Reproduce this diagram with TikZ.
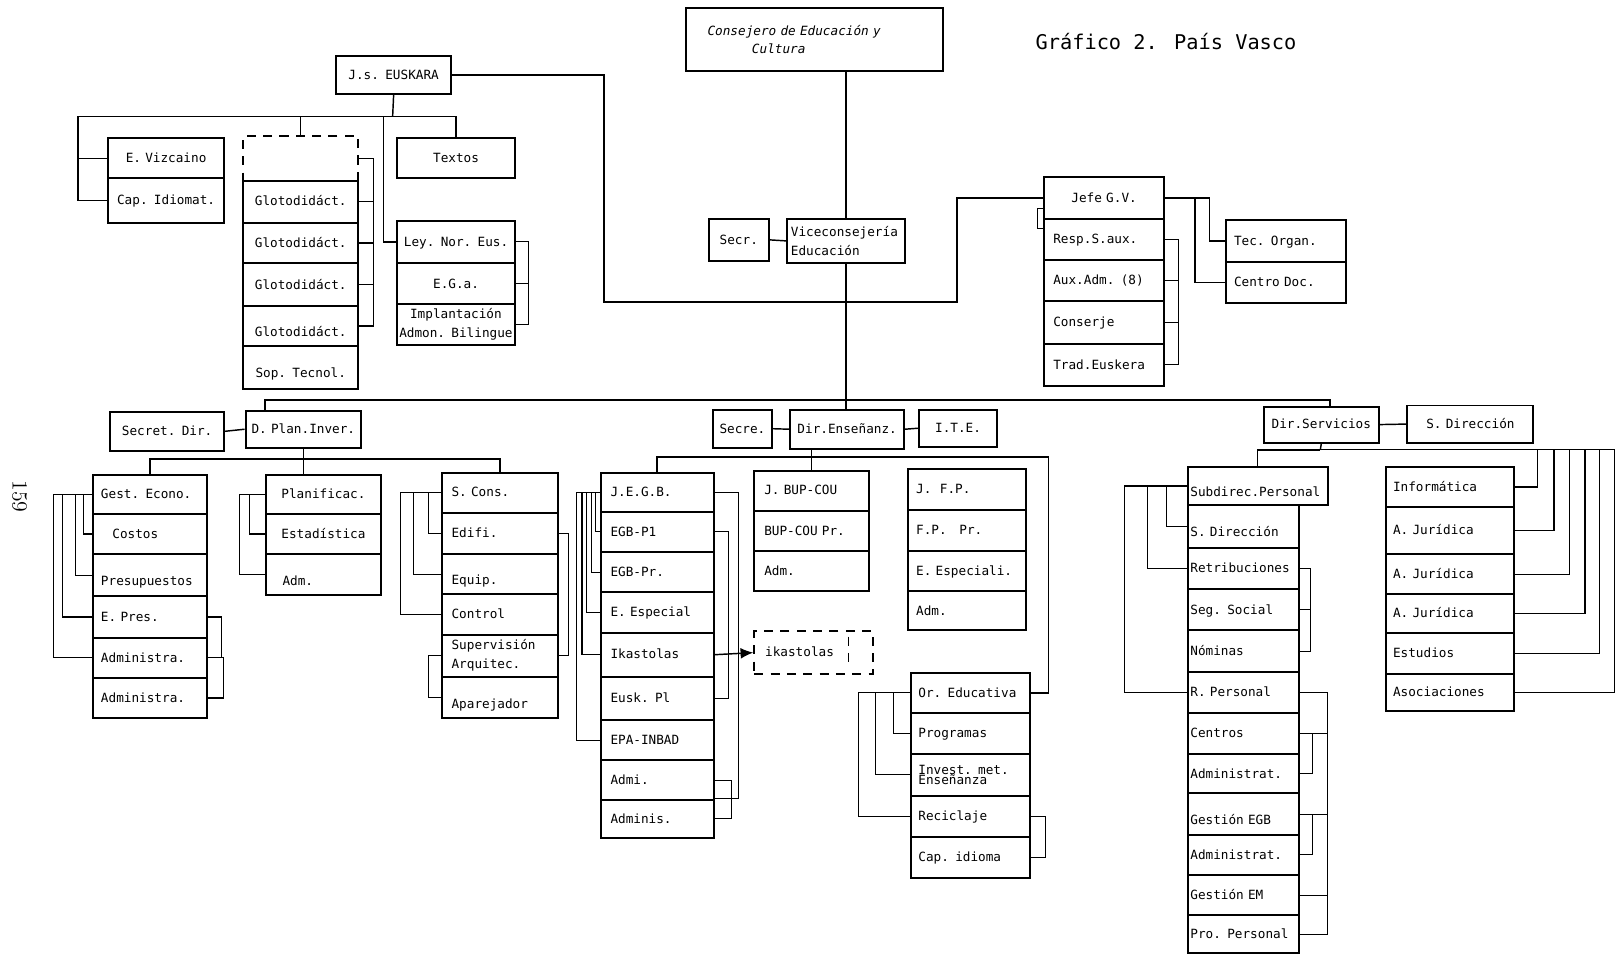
\documentclass[tikz,border=0pt]{standalone}
\usepackage{fontspec}
\newfontfamily\boxfont[WordSpace={1,0,0}]{DejaVu Sans Mono}
\usetikzlibrary{positioning, arrows.meta}

\begin{document}
\begin{tikzpicture}[x=0.02cm, y=-0.02cm]
\tikzset{
  base/.style={draw, line width=1.1pt, anchor=north west, inner xsep=2pt, inner ysep=0pt,
    font=\boxfont\fontsize{7}{10.5}\selectfont, align=left},
  cell/.style={base, text height=1.5ex, text depth=.4ex},
  cc/.style={align=center},
  low/.style={text height=3.1ex},
  dbox/.style={dash pattern=on 5pt off 4pt},
  main/.style={line width=1.1pt},
  ln/.style={line width=.8pt},
  brk/.style={line width=.6pt},
  % columnas
  gcol/.style={cell, inner xsep=4.5pt, text width=1.90cm},
  pcol/.style={cell, cc, text width=2.08cm},
  scol/.style={cell, inner xsep=5.5pt, text width=1.87cm},
  ecol/.style={cell, inner xsep=5.5pt, text width=1.81cm},
  bcol/.style={cell, inner xsep=5.5pt, text width=1.83cm},
  fcol/.style={cell, inner xsep=4.5pt, text width=1.98cm},
  ocol/.style={cell, inner xsep=4pt, text width=2.02cm},
  dcol/.style={cell, inner xsep=1.5pt, text width=2.05cm},
  icol/.style={cell, inner xsep=4pt, text width=2.20cm},
  jcol/.style={cell, inner xsep=5pt, text width=1.97cm},
}

\fill[white] (0,0) rectangle (1568,924);

% titulo y pagina
\node[font=\boxfont\fontsize{11.2}{13}\selectfont] (ttl) at (1130,40) {Gráfico 2. País Vasco};
\node[rotate=-90, font=\fontsize{12}{14}\selectfont] (pag) at (19,481) {159};

% arriba
\node[base, text width=4.84cm, minimum height=1.22cm, font=\boxfont\itshape\fontsize{7}{10.2}\selectfont] (cons) at (664,7)
  {\hspace*{1.4em}Consejero de Educación y\\\hspace*{4.9em}Cultura};
\node[cell, cc, text width=1.02cm, minimum height=0.82cm] (secr) at (686,211) {Secr.};
\node[base, text width=2.14cm, minimum height=0.86cm] (vice) at (762,211) {Viceconsejería\\Educación};

% J.s. Euskara
\node[cell, cc, text width=2.08cm, minimum height=0.74cm] (jse) at (325,53) {J.s. EUSKARA};
\node[cell, cc, text width=2.10cm, minimum height=0.78cm] (evz) at (104,133) {E. Vizcaino};
\node[cell, cc, text width=2.10cm, minimum height=0.86cm] (cap) at (104,172) {Cap. Idiomat.};
\node[cell, dbox, text width=2.08cm, minimum height=0.86cm] (glot0) at (235,131) {};
\node[pcol, minimum height=0.82cm] (glot1) at (235,174) {Glotodidáct.};
\node[pcol, minimum height=0.78cm] (glot2) at (235,215) {Glotodidáct.};
\node[pcol, minimum height=0.84cm] (glot3) at (235,254) {Glotodidáct.};
\node[pcol, low, minimum height=0.76cm] (glot4) at (235,296) {Glotodidáct.};
\node[pcol, low, minimum height=0.84cm] (sop) at (235,334) {Sop. Tecnol.};
\node[cell, cc, text width=2.14cm, minimum height=0.78cm] (textos) at (384,133) {Textos};
\node[cell, cc, text width=2.14cm, minimum height=0.82cm] (ley) at (384,213) {Ley. Nor. Eus.};
\node[cell, cc, text width=2.14cm, minimum height=0.80cm] (ega) at (384,254) {E.G.a.};
\node[base, cc, inner xsep=0.5pt, text width=2.24cm, minimum height=0.78cm] (imp) at (384,294) {Implantación\\Admon. Bilingue};

% Jefe G.V.
\node[jcol, cc, minimum height=0.80cm] (jefe) at (1011,171) {Jefe G.V.};
\node[jcol, minimum height=0.80cm] (resp) at (1011,211) {Resp.S.aux.};
\node[jcol, minimum height=0.80cm] (aux) at (1011,251) {Aux.Adm. (8)};
\node[jcol, minimum height=0.82cm] (conserje) at (1011,291) {Conserje};
\node[jcol, minimum height=0.82cm] (trad) at (1011,332) {Trad.Euskera};
\node[cell, inner xsep=4.5pt, text width=2.02cm, minimum height=0.82cm] (tec) at (1187,212) {Tec. Organ.};
\node[cell, inner xsep=4.5pt, text width=2.02cm, minimum height=0.80cm] (cdoc) at (1187,253) {Centro Doc.};

% direcciones
\node[cell, cc, text width=2.06cm, minimum height=0.76cm] (sdir) at (106,398) {Secret. Dir.};
\node[cell, cc, text width=2.10cm, minimum height=0.72cm] (dplan) at (237,397) {D. Plan.Inver.};
\node[cell, cc, text width=1.00cm, minimum height=0.74cm] (secre) at (690,396) {Secre.};
\node[cell, cc, text width=2.06cm, minimum height=0.76cm] (denz) at (765,396) {Dir.Enseñanz.};
\node[cell, cc, text width=1.36cm, minimum height=0.72cm] (ite) at (890,396) {I.T.E.};
\node[cell, cc, text width=2.08cm, minimum height=0.70cm] (dserv) at (1224,393) {Dir.Servicios};
\node[cell, cc, text width=2.30cm, minimum height=0.72cm] (sdir2) at (1363,392) {S. Dirección};

% D. Plan.Inver.
\node[gcol, minimum height=0.76cm] (gest) at (89,459) {Gest. Econo.};
\node[gcol, minimum height=0.78cm] (costos) at (89,497) {\hspace*{0.9em}Costos};
\node[gcol, low, minimum height=0.82cm] (presup) at (89,536) {Presupuestos};
\node[gcol, minimum height=0.80cm] (epres) at (89,577) {E. Pres.};
\node[gcol, minimum height=0.78cm] (adm1) at (89,617) {Administra.};
\node[gcol, minimum height=0.78cm] (adm2) at (89,656) {Administra.};
\node[pcol, minimum height=0.76cm] (plan) at (257,459) {Planificac.};
\node[pcol, minimum height=0.78cm] (estad) at (257,497) {Estadística};
\node[pcol, low, align=left, minimum height=0.80cm] (admp) at (257,536) {\hspace*{1em}Adm.};
\node[scol, minimum height=0.78cm] (scons) at (427,457) {S. Cons.};
\node[scol, minimum height=0.80cm] (edifi) at (427,496) {Edifi.};
\node[scol, low, minimum height=0.78cm] (equip) at (427,536) {Equip.};
\node[scol, minimum height=0.78cm] (control) at (427,575) {Control};
\node[base, inner xsep=5.5pt, text width=1.87cm, minimum height=0.82cm] (superv) at (427,614) {Supervisión\\Arquitec.};
\node[scol, low, minimum height=0.80cm] (apar) at (427,655) {Aparejador};

% Dir. Enseñanza
\node[ecol, minimum height=0.76cm] (jegb) at (581,457) {J.E.G.B.};
\node[ecol, minimum height=0.78cm] (egbp1) at (581,495) {EGB-P1};
\node[ecol, minimum height=0.78cm] (egbpr) at (581,534) {EGB-Pr.};
\node[ecol, minimum height=0.78cm] (eesp) at (581,573) {E. Especial};
\node[ecol, minimum height=0.86cm] (ikas) at (581,612) {Ikastolas};
\node[ecol, minimum height=0.84cm] (eusk) at (581,655) {Eusk. Pl};
\node[ecol, minimum height=0.78cm] (epa) at (581,697) {EPA-INBAD};
\node[ecol, minimum height=0.76cm] (admi) at (581,736) {Admi.};
\node[ecol, minimum height=0.74cm] (admis) at (581,774) {Adminis.};
\node[cell, dbox, inner xsep=6pt, text width=1.88cm, minimum height=0.82cm] (ikd) at (730,611) {ikastolas};
\node[bcol, minimum height=0.78cm] (jbup) at (730,455) {J. BUP-COU};
\node[bcol, minimum height=0.78cm] (buppr) at (730,494) {BUP-COU Pr.};
\node[bcol, minimum height=0.78cm] (admb) at (730,533) {Adm.};
\node[fcol, minimum height=0.78cm] (jfp) at (879,454) {J.\ \ F.P.};
\node[fcol, minimum height=0.80cm] (fppr) at (879,493) {F.P.\ \ \ Pr.};
\node[fcol, minimum height=0.78cm] (eespi) at (879,533) {E. Especiali.};
\node[fcol, minimum height=0.76cm] (admf) at (879,572) {Adm.};
\node[ocol, minimum height=0.78cm] (oreduc) at (882,651) {Or. Educativa};
\node[ocol, minimum height=0.80cm] (progr) at (882,690) {Programas};
\node[base, inner xsep=4pt, text width=2.02cm, minimum height=0.80cm] (invest) at (882,730) {Invest. met.\\[-4.5pt]Enseñanza};
\node[ocol, minimum height=0.80cm] (recic) at (882,770) {Reciclaje};
\node[ocol, minimum height=0.80cm] (capid) at (882,810) {Cap. idioma};

% Dir. Servicios
\node[dcol, low, text width=2.61cm, minimum height=0.72cm] (subd) at (1150,452) {Subdirec.Personal};
\node[dcol, low, minimum height=0.84cm] (sdir3) at (1150,488) {S. Dirección};
\node[dcol, minimum height=0.80cm] (retr) at (1150,530) {Retribuciones};
\node[dcol, minimum height=0.80cm] (seg) at (1150,570) {Seg. Social};
\node[dcol, minimum height=0.80cm] (nom) at (1150,610) {Nóminas};
\node[dcol, minimum height=0.80cm] (rper) at (1150,650) {R. Personal};
\node[dcol, minimum height=0.80cm] (cent) at (1150,690) {Centros};
\node[dcol, minimum height=0.76cm] (admt1) at (1150,730) {Administrat.};
\node[dcol, low, minimum height=0.80cm] (gegb) at (1150,768) {Gestión EGB};
\node[dcol, minimum height=0.78cm] (admt2) at (1150,808) {Administrat.};
\node[dcol, minimum height=0.78cm] (gem) at (1150,847) {Gestión EM};
\node[dcol, minimum height=0.74cm] (propers) at (1150,886) {Pro. Personal};
\node[icol, minimum height=0.76cm] (info) at (1342,452) {Informática};
\node[icol, minimum height=0.92cm] (aj1) at (1342,490) {A. Jurídica};
\node[icol, minimum height=0.78cm] (aj2) at (1342,536) {A. Jurídica};
\node[icol, minimum height=0.74cm] (aj3) at (1342,575) {A. Jurídica};
\node[icol, minimum height=0.80cm] (estud) at (1342,612) {Estudios};
\node[icol, minimum height=0.72cm] (asoc) at (1342,652) {Asociaciones};

% lineas principales
\coordinate (busL) at (257,388);
\coordinate (busR) at (1289,388);
\coordinate (eu1) at (585,293);
\coordinate (eu2) at (927,293);
\draw[main] (vice.north |- cons.south) -- (vice.north);
\draw[ln] (secr.east) -- (vice.west);
\draw[main] (vice.south) -- (vice.south |- denz.north);
\draw[main] (busL |- dplan.north) -- (busL) -- (busR) -- (busR |- dserv.north);
\draw[main] (jse.east) -| (eu1) -- (eu2) |- (jefe.west);

% euskara
\coordinate (jbus) at (380.5,113);
\draw[ln] (jse.south) -- (jbus);
\draw[ln] (jbus) -| (glot0.north);
\draw[ln] (jbus) -| (textos.north);
\draw[ln] (jbus) -- ++(-305,0) |- (evz.west);
\draw[ln] (jbus) -- ++(-305,0) |- (cap.west);
\draw[ln] (jbus) -- ++(-9,0) |- (ley.west);
\draw[brk] (glot0.east) -- ++(14,0) |- (glot1.east);
\draw[brk] (glot0.east) -- ++(14,0) |- (glot2.east);
\draw[brk] (glot0.east) -- ++(14,0) |- (glot3.east);
\draw[brk] (glot0.east) -- ++(14,0) |- (glot4.east);
\draw[brk] (ley.east) -- ++(12,0) |- (ega.east);
\draw[brk] (ley.east) -- ++(12,0) |- (imp.east);

% gabinete
\draw[brk] (jefe.190) -- ++(-6,0) |- (resp.170);
\draw[brk] (resp.east) -- ++(13,0) |- (aux.east);
\draw[brk] (resp.east) -- ++(13,0) |- (conserje.east);
\draw[brk] (resp.east) -- ++(13,0) |- (trad.east);
\draw[ln] (jefe.east) -- ++(29,0) |- (cdoc.west);
\draw[ln] (jefe.east) -- ++(43,0) |- (tec.west);

% segundo nivel
\draw[ln] (sdir.east) -- (dplan.west);
\draw[ln] (secre.east) -- (denz.west);
\draw[ln] (denz.east) -- (ite.west);
\draw[ln] (dserv.east) -- (sdir2.west);

% D. Plan.Inver.
\coordinate (dpbus) at (293,445);
\draw[ln] (dplan.south) -- (dplan.south |- plan.north);
\draw[ln] (gest.north) |- (dpbus) -| (scons.north);
\draw[brk] (gest.west) -- ++(-8,0) |- (costos.west);
\draw[brk] (gest.west) -- ++(-16,0) |- (presup.west);
\draw[brk] (gest.west) -- ++(-28,0) |- (epres.west);
\draw[brk] (gest.west) -- ++(-37,0) |- (adm1.west);
\draw[brk] (epres.east) -- ++(13,0) |- (adm1.east);
\draw[brk] (adm1.east) -- ++(15,0) |- (adm2.east);
\draw[brk] (plan.west) -- ++(-15,0) |- (estad.west);
\draw[brk] (plan.west) -- ++(-25,0) |- (admp.west);
\draw[brk] (scons.west) -- ++(-12,0) |- (edifi.west);
\draw[brk] (scons.west) -- ++(-26,0) |- (equip.west);
\draw[brk] (scons.west) -- ++(-39,0) |- (control.west);
\draw[brk] (superv.west) -- ++(-12,0) |- (apar.west);
\draw[brk] (edifi.east) -- ++(9,0) |- (superv.east);

% Dir. Enseñanza
\coordinate (debus) at (785.5,443);
\draw[ln] (jbup.north) -- (jbup.north |- denz.south);
\draw[ln] (jegb.north) |- (debus);
\draw[ln] (oreduc.east) -- ++(17,0) |- (debus);
\draw[brk] (jegb.west) -- ++(-4,0) |- (egbp1.west);
\draw[brk] (jegb.west) -- ++(-8,0) |- (egbpr.west);
\draw[brk] (jegb.west) -- ++(-13,0) |- (eesp.west);
\draw[brk] (jegb.west) -- ++(-17,0) |- (ikas.west);
\draw[brk] (jegb.west) -- ++(-22,0) |- (epa.west);
\draw[brk] (jegb.east) -- ++(23,0) |- (admis.north east);
\draw[brk] (egbp1.east) -- ++(13,0) |- (eusk.east);
\draw[brk] (admi.east) -- ++(16,0) |- (admis.east);
\draw[ln, -{Latex[length=7pt,width=6pt]}] (ikas.east) -- (ikd.west);
\draw[brk, dbox] (ikd.north east) ++(-25,6) -- ++(0,26);
\draw[brk] (oreduc.west) -- ++(-16,0) |- (progr.west);
\draw[brk] (oreduc.west) -- ++(-34,0) |- (invest.west);
\draw[brk] (oreduc.west) -- ++(-50,0) |- (recic.west);
\draw[brk] (recic.east) -- ++(14,0) |- (capid.east);

% Dir. Servicios
\coordinate (dsbus) at (1279.5,436);
\draw[ln] (dserv.south) -- (dsbus);
\draw[ln] (subd.north) |- (dsbus);
\draw[brk] (info.east) -- ++(22,0) |- (dsbus);
\draw[brk] (aj1.east) -- ++(38,0) |- (dsbus);
\draw[brk] (aj2.east) -- ++(53,0) |- (dsbus);
\draw[brk] (aj3.east) -- ++(68,0) |- (dsbus);
\draw[brk] (estud.east) -- ++(82,0) |- (dsbus);
\draw[brk] (asoc.east) -- ++(97,0) |- (dsbus);
\draw[brk] (subd.west) -- ++(-20,0) |- (sdir3.west);
\draw[brk] (subd.west) -- ++(-38,0) |- (retr.west);
\draw[brk] (subd.west) -- ++(-60,0) |- (rper.west);
\draw[brk] (retr.east) -- ++(10,0) |- (seg.east);
\draw[brk] (seg.east) -- ++(10,0) |- (nom.east);
\draw[brk] (cent.east) -- ++(12,0) |- (admt1.east);
\draw[brk] (gegb.east) -- ++(12,0) |- (admt2.east);
\draw[brk] (rper.east) -- ++(27,0) |- (cent.east);
\draw[brk] (rper.east) -- ++(27,0) |- (gegb.east);
\draw[brk] (rper.east) -- ++(27,0) |- (gem.east);
\draw[brk] (rper.east) -- ++(27,0) |- (propers.east);
\end{tikzpicture}
\end{document}
